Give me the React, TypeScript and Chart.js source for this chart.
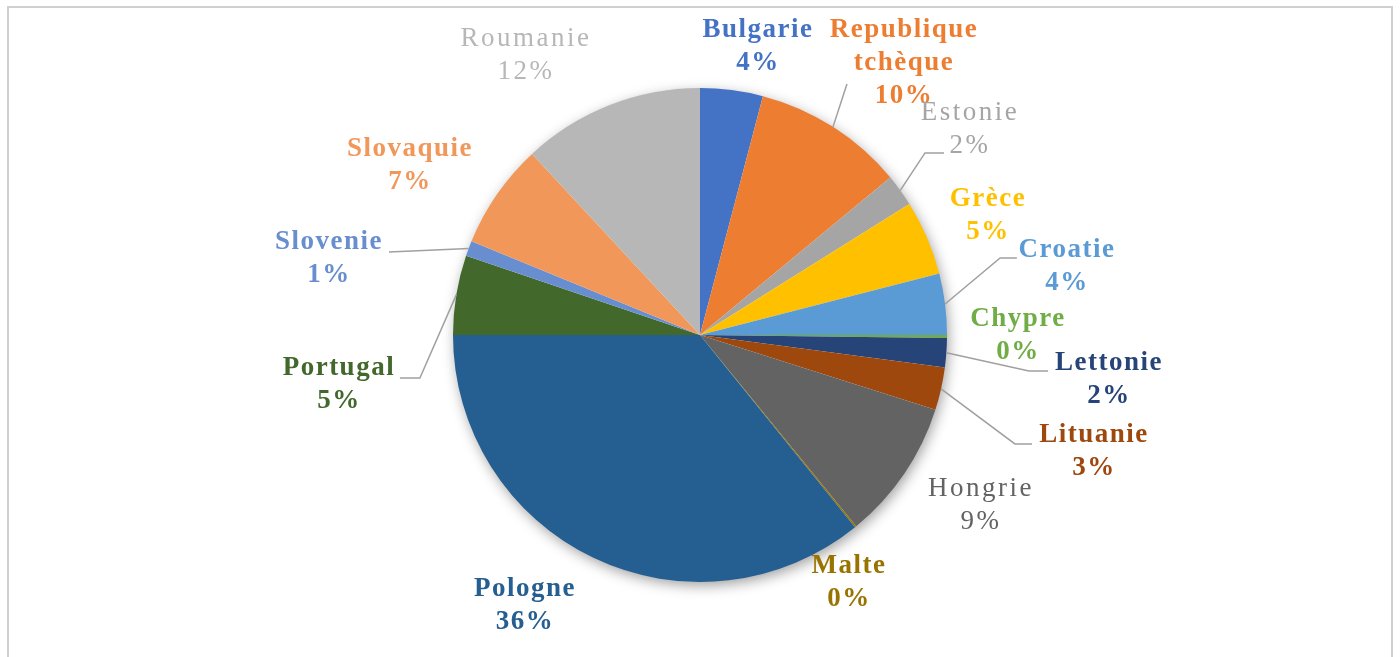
import React, { useEffect, useRef } from "react";
import { Chart, registerables } from "chart.js";

Chart.register(...registerables);

// ---- Data ----
const countries = [
  "Bulgarie",
  "Republique tchèque",
  "Estonie",
  "Grèce",
  "Croatie",
  "Chypre",
  "Lettonie",
  "Lituanie",
  "Hongrie",
  "Malte",
  "Pologne",
  "Portugal",
  "Slovenie",
  "Slovaquie",
  "Roumanie",
];
const shares = [4.1, 9.9, 2.1, 4.9, 4.0, 0.2, 1.9, 2.8, 9.2, 0.1, 35.8, 5.2, 1.0, 6.9, 11.9];
const sliceColors = [
  "#4472C4",
  "#ED7D31",
  "#A5A5A5",
  "#FFC000",
  "#5B9BD5",
  "#70AD47",
  "#264478",
  "#9E480E",
  "#636363",
  "#997300",
  "#255E91",
  "#43682B",
  "#698ED0",
  "#F1975A",
  "#B7B7B7",
];
const boldLabel = [true, true, false, true, true, true, true, true, false, true, true, true, true, true, false];

// ---- Label layout (relative to the pie radius, measured from the pie centre) ----
const labelPos: [number, number][] = [
  [0.231, -1.166],
  [0.822, -1.101],
  [1.089, -0.834],
  [1.162, -0.482],
  [1.482, -0.279],
  [1.283, 0.004],
  [1.652, 0.182],
  [1.591, 0.47],
  [1.134, 0.688],
  [0.599, 1.004],
  [-0.713, 1.097],
  [-1.466, 0.202],
  [-1.506, -0.308],
  [-1.178, -0.688],
  [-0.709, -1.13],
];
const leaderPts: ([number, number][] | null)[] = [
  null,
  [[0.595, -1.016]],
  [[0.911, -0.737], [0.988, -0.737]],
  null,
  [[1.215, -0.312], [1.283, -0.312]],
  null,
  [[1.332, 0.146], [1.409, 0.146]],
  [[1.275, 0.441], [1.344, 0.441]],
  null,
  null,
  null,
  [[-1.134, 0.174], [-1.215, 0.174]],
  [[-1.259, -0.336]],
  null,
  null,
];

const FONT_SIZE = 27;
const LINE_H = 33;
const FONT_FAMILY = '"Liberation Serif", "Times New Roman", serif';

const framePlugin = {
  id: "frame",
  beforeDraw(chart: any) {
    const ctx = chart.ctx;
    ctx.save();
    ctx.fillStyle = "#FFFFFF";
    ctx.fillRect(0, 0, chart.width, chart.height);
    ctx.strokeStyle = "#D0D0D0";
    ctx.lineWidth = 2;
    ctx.beginPath();
    ctx.moveTo(8, chart.height + 5);
    ctx.lineTo(8, 7);
    ctx.lineTo(1392, 7);
    ctx.lineTo(1392, chart.height + 5);
    ctx.stroke();
    ctx.restore();
  },
};

const shadowPlugin = {
  id: "pieShadow",
  beforeDatasetsDraw(chart: any) {
    const meta = chart.getDatasetMeta(0);
    if (!meta.data.length) return;
    const arc: any = meta.data[0];
    const { x, y, outerRadius } = arc.getProps(["x", "y", "outerRadius"], true);
    const ctx = chart.ctx;
    ctx.save();
    ctx.shadowColor = "rgba(0,0,0,0.4)";
    ctx.shadowBlur = 14;
    ctx.shadowOffsetX = 2;
    ctx.shadowOffsetY = 4;
    ctx.fillStyle = "#FFFFFF";
    ctx.beginPath();
    ctx.arc(x, y, outerRadius - 1, 0, Math.PI * 2);
    ctx.fill();
    ctx.restore();
  },
};

const labelPlugin = {
  id: "pieLabels",
  afterDatasetsDraw(chart: any) {
    const ctx = chart.ctx;
    const meta = chart.getDatasetMeta(0);
    const total = shares.reduce((a, b) => a + b, 0);
    meta.data.forEach((el: any, i: number) => {
      const { x, y, startAngle, endAngle, outerRadius: r } = el.getProps(
        ["x", "y", "startAngle", "endAngle", "outerRadius"],
        true
      );
      const mid = (startAngle + endAngle) / 2;
      const pts = leaderPts[i];
      if (pts) {
        ctx.save();
        ctx.strokeStyle = "#A0A0A0";
        ctx.lineWidth = 1.5;
        ctx.beginPath();
        ctx.moveTo(x + r * Math.cos(mid), y + r * Math.sin(mid));
        pts.forEach(([px, py]) => ctx.lineTo(x + px * r, y + py * r));
        ctx.stroke();
        ctx.restore();
      }
      const lines = [...countries[i].split(" "), Math.round((shares[i] / total) * 100) + "%"];
      const [lx, ly] = labelPos[i];
      const cx = x + lx * r;
      const cy = y + ly * r;
      ctx.save();
      ctx.font = `${boldLabel[i] ? "bold " : ""}${FONT_SIZE}px ${FONT_FAMILY}`;
      (ctx as any).letterSpacing = boldLabel[i] ? "1.5px" : "2.5px";
      ctx.fillStyle = sliceColors[i];
      ctx.textAlign = "center";
      ctx.textBaseline = "middle";
      lines.forEach((t, k) => {
        ctx.fillText(t, cx + 1, cy + (k - (lines.length - 1) / 2) * LINE_H);
      });
      ctx.restore();
    });
  },
};

export default function App() {
  const canvasRef = useRef<HTMLCanvasElement | null>(null);

  useEffect(() => {
    const canvas = canvasRef.current;
    if (!canvas) return;
    const chart = new Chart(canvas, {
      type: "pie",
      data: {
        labels: countries,
        datasets: [
          {
            data: shares,
            backgroundColor: sliceColors,
            borderWidth: 0,
            hoverOffset: 0,
          },
        ],
      },
      options: {
        animation: false,
        responsive: false,
        devicePixelRatio: 1,
        events: [],
        layout: { padding: { top: 88, bottom: 75, left: 400, right: 400 } },
        plugins: {
          legend: { display: false },
          tooltip: { enabled: false },
          title: { display: false },
        },
      },
      plugins: [framePlugin, shadowPlugin, labelPlugin],
    });
    return () => chart.destroy();
  }, []);

  return (
    <canvas
      ref={canvasRef}
      width={1400}
      height={657}
      style={{ position: "absolute", left: 0, top: 0, width: 1400, height: 657, display: "block" }}
    />
  );
}
